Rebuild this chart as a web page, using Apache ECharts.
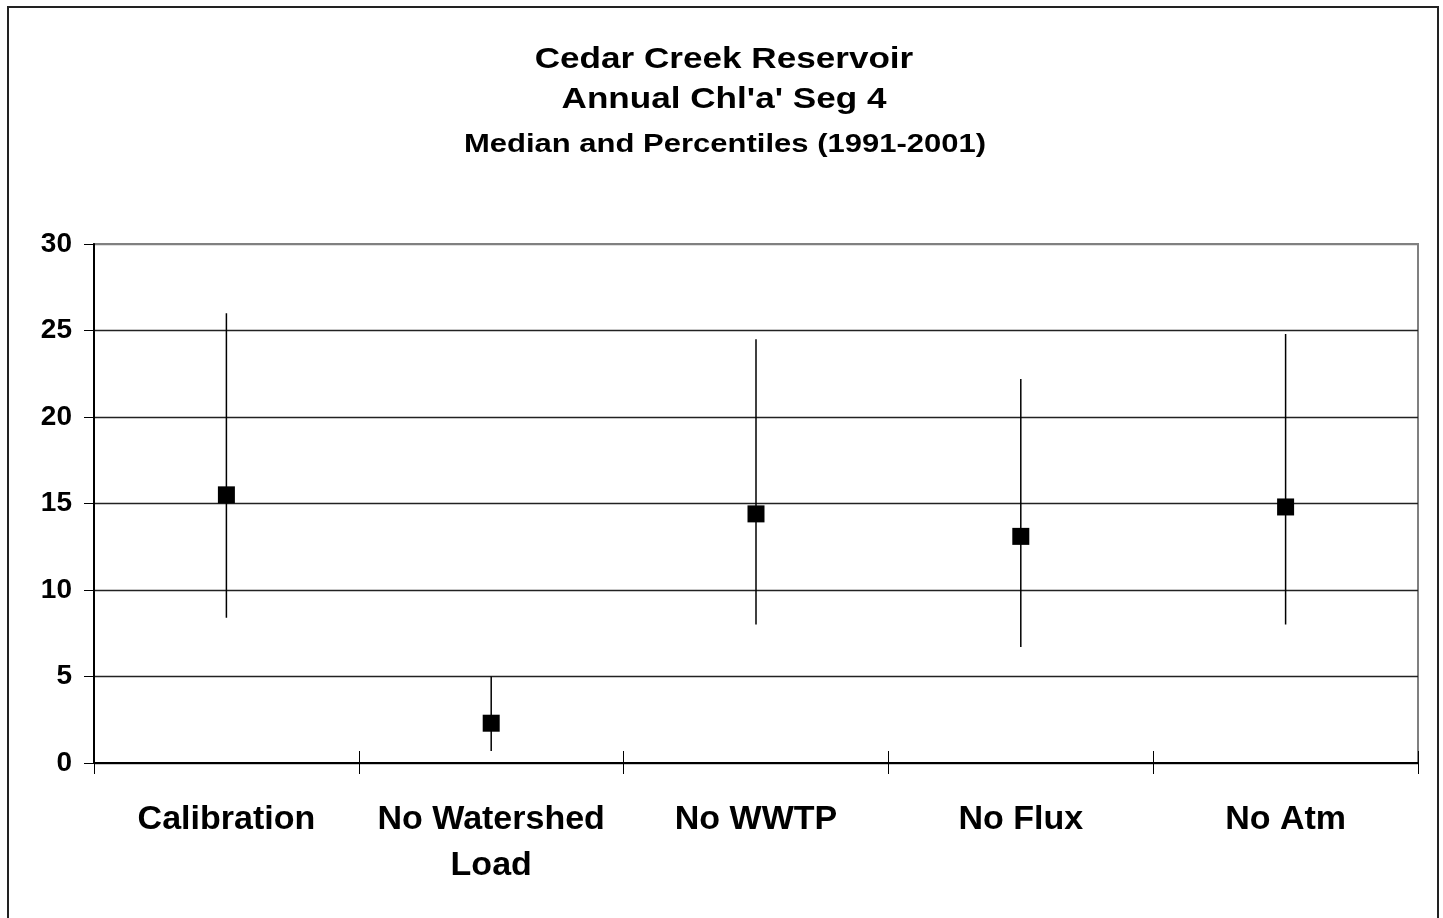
<!DOCTYPE html>
<html>
<head>
<meta charset="utf-8">
<script src="https://cdn.jsdelivr.net/npm/echarts@6/dist/echarts.min.js"></script>
<style>
html,body{margin:0;padding:0;background:#fff;}
#chart{width:1443px;height:918px;}
</style>
</head>
<body>
<div id="chart"></div>
<script>
var categories = ['Calibration', 'No Watershed\nLoad', 'No WWTP', 'No Flux', 'No Atm'];
var medianValues = [15.5, 2.3, 14.4, 13.1, 14.8];
var lowValues = [8.4, 0.7, 8.0, 6.7, 8.0];
var highValues = [26.0, 5.0, 24.5, 22.2, 24.8];
var yTicks = [0, 5, 10, 15, 20, 25, 30];

var FONT = '"Liberation Sans", Arial, sans-serif';
var chart = echarts.init(document.getElementById('chart'));

var rangeData = categories.map(function (c, i) { return [i, lowValues[i], highValues[i]]; });

chart.setOption({
  animation: false,
  backgroundColor: '#fff',
  graphic: [
    { type: 'rect', shape: { x: 8, y: 7, width: 1430, height: 930 }, style: { fill: 'none', stroke: '#222', lineWidth: 2 }, z: 0 },
    { type: 'text', x: 724, y: 59.5, scaleX: 1.17, style: { x: 0, y: 0, text: 'Cedar Creek Reservoir', font: 'bold 30px ' + FONT, textAlign: 'center', textVerticalAlign: 'middle', fill: '#000' } },
    { type: 'text', x: 724, y: 99.5, scaleX: 1.17, style: { x: 0, y: 0, text: "Annual Chl'a' Seg 4", font: 'bold 30px ' + FONT, textAlign: 'center', textVerticalAlign: 'middle', fill: '#000' } },
    { type: 'text', x: 725, y: 144.5, scaleX: 1.17, style: { x: 0, y: 0, text: 'Median and Percentiles (1991-2001)', font: 'bold 26.5px ' + FONT, textAlign: 'center', textVerticalAlign: 'middle', fill: '#000' } }
  ],
  grid: { left: 94, right: 25, top: 244, bottom: 155, show: true, borderColor: '#808080', borderWidth: 2, backgroundColor: '#fff' },
  xAxis: [{
    type: 'category',
    data: categories,
    boundaryGap: true,
    axisLine: { show: true, lineStyle: { color: '#000', width: 2 } },
    axisTick: { show: true, inside: false, length: 11, alignWithLabel: false, lineStyle: { color: '#000', width: 1 } },
    axisLabel: { interval: 0, margin: 34, fontFamily: FONT, fontWeight: 'bold', fontSize: 34, color: '#000', lineHeight: 46 },
    splitLine: { show: false }
  }, {
    type: 'category',
    data: categories,
    position: 'bottom',
    boundaryGap: true,
    axisLine: { show: false },
    axisTick: { show: true, inside: true, length: 12, lineStyle: { color: '#000', width: 1 } },
    axisLabel: { show: false },
    splitLine: { show: false }
  }],
  yAxis: {
    type: 'value',
    min: yTicks[0],
    max: yTicks[yTicks.length - 1],
    interval: 5,
    axisLine: { show: true, lineStyle: { color: '#000', width: 2 } },
    axisTick: { show: true, inside: false, length: 10, lineStyle: { color: '#000', width: 1 } },
    axisLabel: { margin: 22, fontFamily: FONT, fontWeight: 'bold', fontSize: 28, color: '#000' },
    splitLine: { show: true, lineStyle: { color: ['#222', '#222', '#222', '#222', '#222', '#222', '#808080'], width: 1.3 } }
  },
  series: [{
    type: 'custom',
    xAxisIndex: 0,
    data: rangeData,
    renderItem: function (params, api) {
      var lo = api.coord([api.value(0), api.value(1)]);
      var hi = api.coord([api.value(0), api.value(2)]);
      return { type: 'line', shape: { x1: lo[0], y1: lo[1], x2: hi[0], y2: hi[1] }, style: { stroke: '#000', lineWidth: 1.5 } };
    },
    z: 3
  }, {
    type: 'scatter',
    xAxisIndex: 0,
    data: medianValues,
    symbol: 'rect',
    symbolSize: 17,
    itemStyle: { color: '#000', opacity: 1 },
    z: 4
  }]
});
</script>
</body>
</html>
